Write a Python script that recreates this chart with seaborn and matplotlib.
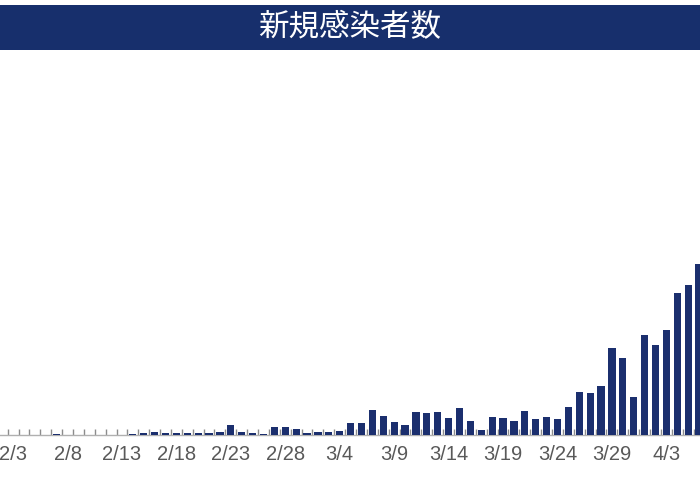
import matplotlib
matplotlib.use('Agg')
import matplotlib.pyplot as plt
import seaborn as sns
import pandas as pd
from matplotlib.patches import Rectangle
from matplotlib.ticker import FixedLocator

# daily new cases, 2/1 - 4/6
days = pd.date_range('2020-02-01', '2020-04-06', freq='D')
day_labels = [f"{d.month}/{d.day}" for d in days]
new_cases = [0, 1, 1, 0, 1, 0, 2, 1, 0, 1, 1, 0, 1, 2,
             5, 6, 4, 5, 4, 5, 4, 7, 20, 7, 5, 3, 17, 17, 13,
             4, 7, 7, 9, 25, 24, 50, 38, 26, 20, 46, 44, 46, 34, 54,
             28, 10, 36, 34, 28, 48, 32, 36, 32, 56, 86, 84, 98,
             174, 154, 76, 200, 180, 210, 284, 300, 342]
title = '新規感染者数'

navy = '#172f6c'
bar_color = '#1b2f6e'

df = pd.DataFrame({'day': day_labels, 'cases': new_cases})

sns.set_theme(style='white')
plt.rcParams['font.family'] = ['Liberation Sans', 'DejaVu Sans']

fig = plt.figure(figsize=(7, 4.9), dpi=100)
ax = fig.add_axes([0, 0.112, 1, 0.776])

sns.barplot(data=df, x='day', y='cases', color=bar_color, saturation=1,
            width=0.66, linewidth=0, ax=ax, zorder=3)

ax.set_xlim(0.8, 65.09)
ax.set_ylim(0, 760)
ax.set_yticks([])
ax.set_xlabel('')
ax.set_ylabel('')
for s in ['top', 'right', 'left']:
    ax.spines[s].set_visible(False)
ax.spines['bottom'].set_color('#b0b0b0')
ax.spines['bottom'].set_linewidth(1)

label_idx = list(range(2, len(day_labels), 5))
ax.set_xticks(label_idx)
ax.set_xticklabels([day_labels[i] for i in label_idx], fontsize=14.5, color='#595959')
ax.tick_params(axis='x', which='major', length=0, pad=7)
ax.xaxis.set_minor_locator(FixedLocator([i + 0.5 for i in range(len(day_labels))]))
ax.tick_params(axis='x', which='minor', direction='in', length=4, width=1,
               color='#8c8c8c', bottom=True)

# title band
fig.patches.append(Rectangle((0, 0.898), 1, 0.092, transform=fig.transFigure,
                             facecolor=navy, edgecolor='none', zorder=0))
fig.text(0.5, 0.944, title, ha='center', va='center', color='white',
         fontsize=22, family=['Noto Sans CJK JP', 'DejaVu Sans'])

fig.savefig('out.png', dpi=100)
